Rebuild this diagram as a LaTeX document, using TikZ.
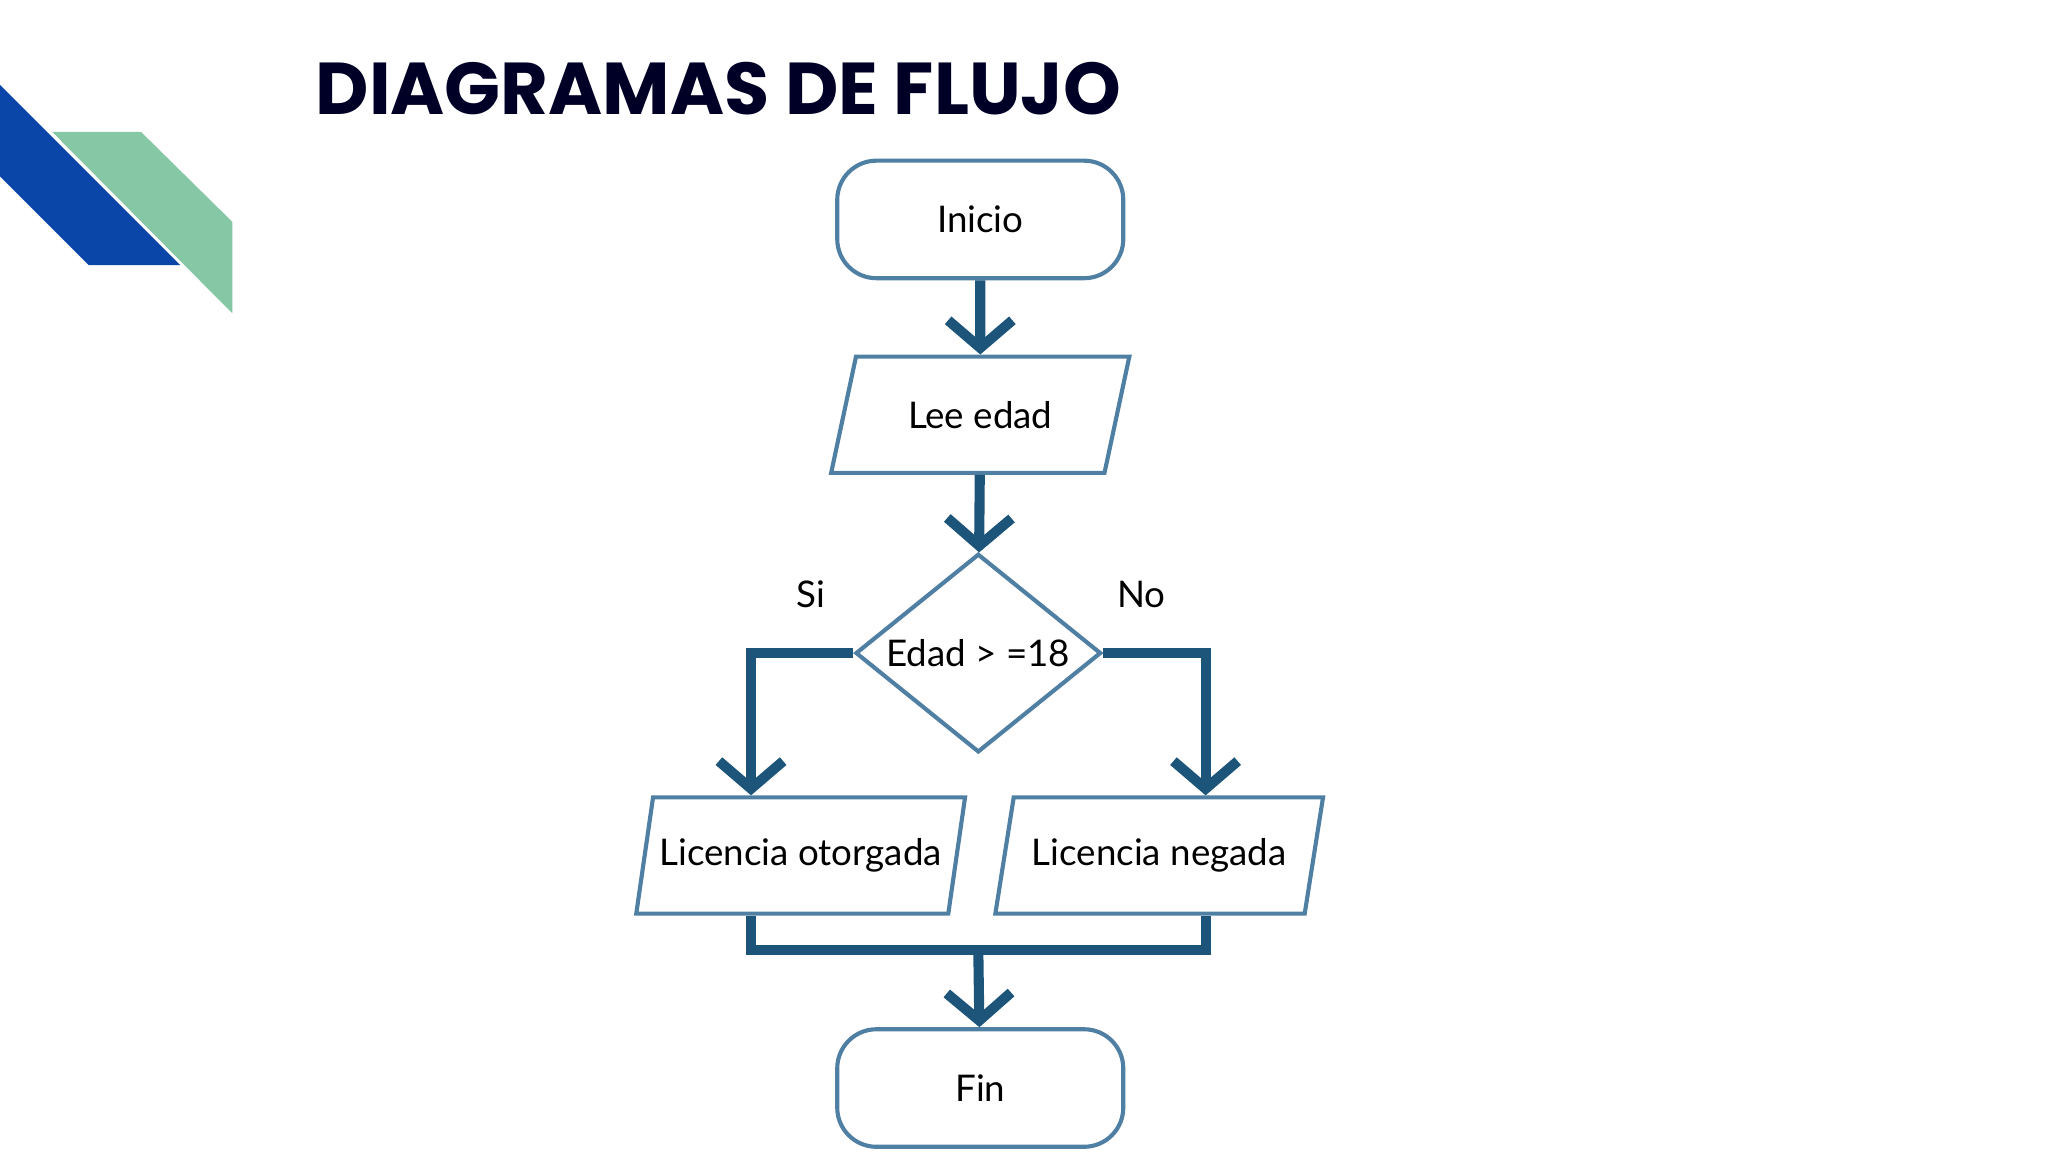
\documentclass[tikz,border=0pt]{standalone}
\usepackage{fontspec}
\setmainfont{Lato}
\newfontfamily\titlefont{Poppins}
\usetikzlibrary{shapes.geometric,arrows.meta,positioning}
\definecolor{flowblue}{HTML}{1D5479}
\definecolor{edgeblue}{HTML}{4F7FA3}
\definecolor{decoblue}{HTML}{0A45A8}
\definecolor{decogreen}{HTML}{86C7A6}
\tikzset{
  box/.style={draw=edgeblue, line width=0.9pt, rounded corners=0.3cm,
    minimum width=2.19cm, minimum height=0.9cm, font=\fontsize{8}{10}\selectfont},
  io/.style={draw=edgeblue, line width=0.9pt, trapezium, trapezium left angle=76,
    trapezium right angle=104, trapezium stretches=true, minimum height=0.89cm,
    inner xsep=0pt, font=\fontsize{8}{10}\selectfont},
  test/.style={draw=edgeblue, line width=0.9pt, diamond, inner sep=0pt,
    minimum width=1.88cm, minimum height=1.52cm},
  flow/.style={draw=flowblue, line width=2.2pt},
  arr/.style={flow, -{Straight Barb[length=6pt,width=14pt]}},
  lbl/.style={font=\fontsize{8}{10}\selectfont}
}
\begin{document}
\begin{tikzpicture}
\useasboundingbox (0,0) rectangle (15.68,8.82);
% corner decoration
\fill[decogreen] (0.40,7.81) -- (1.08,7.81) -- (1.78,7.12) -- (1.78,6.42) -- cycle;
\fill[decoblue] (0,8.17) -- (1.38,6.79) -- (0.68,6.79) -- (0,7.47) -- cycle;
\node[anchor=west, inner sep=0pt, font=\titlefont\bfseries\fontsize{16}{19}\selectfont, text=black!85!blue] (title) at (2.41,8.14) {DIAGRAMAS DE FLUJO};
% flowchart
\node[box] (start) at (7.505,7.14) {Inicio};
\node[io, minimum width=2.29cm] (read) at (7.505,5.645) {Lee edad};
\node[test, label={[lbl]center:Edad > =18}] (age) at (7.49,3.82) {};
\node[io, minimum width=2.52cm] (yes) at (6.13,2.27) {Licencia otorgada};
\node[io, minimum width=2.51cm] (no) at (8.875,2.27) {Licencia negada};
\node[box] (end) at (7.505,0.49) {Fin};
\coordinate (join) at (7.49,1.55);
\draw[arr] (start) -- (read);
\draw[arr] (read) -- (age);
\draw[arr] (age.west) -| (yes.north -| 5.75,0) ;
\draw[arr] (age.east) -| (no.north -| 9.23,0);
\draw[flow] (yes.south -| 5.75,0) |- (join) -| (no.south -| 9.23,0);
\draw[arr] (join) -- (end);
\node[lbl] (si) at (6.21,4.27) {Si};
\node[lbl] (nolbl) at (8.74,4.27) {No};
\end{tikzpicture}
\end{document}
